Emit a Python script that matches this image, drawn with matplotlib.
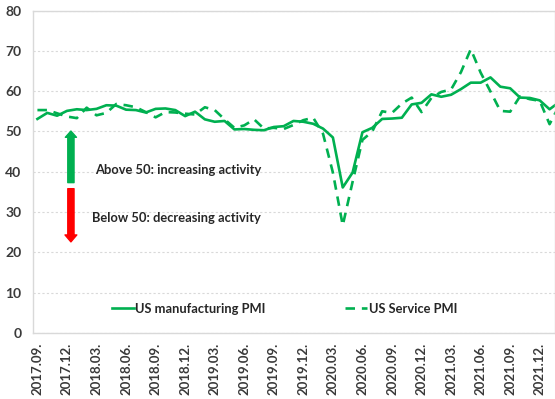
import matplotlib
matplotlib.use("Agg")
import matplotlib.pyplot as plt
import numpy as np

# Monthly categories 2017.09 ... 2022.02 (last point partly beyond the visible area)
manufacturing = [53.1, 54.6, 53.9, 55.1, 55.5, 55.3, 55.6, 56.5, 56.4, 55.4, 55.3, 54.7,
                 55.6, 55.7, 55.3, 53.8, 54.9, 53.0, 52.4, 52.6, 50.5, 50.6, 50.4, 50.3,
                 51.1, 51.3, 52.6, 52.4, 51.9, 50.7, 48.5, 36.1, 39.8, 49.8, 50.9, 53.1,
                 53.2, 53.4, 56.7, 57.1, 59.2, 58.6, 59.1, 60.5, 62.1, 62.1, 63.4, 61.1,
                 60.7, 58.4, 58.3, 57.7, 55.5, 57.3]
services = [55.3, 55.3, 54.5, 53.7, 53.3, 55.9, 54.0, 54.6, 56.8, 56.5, 56.0, 54.8,
            53.5, 54.8, 54.7, 54.4, 54.2, 56.0, 55.3, 53.0, 50.9, 51.5, 53.0, 50.7,
            50.9, 50.6, 51.6, 52.8, 53.4, 49.4, 39.8, 26.7, 37.5, 47.9, 50.0, 55.0,
            54.6, 56.9, 58.4, 54.8, 58.3, 59.8, 60.4, 64.7, 70.4, 64.6, 59.9, 55.1,
            54.9, 58.7, 58.0, 57.6, 51.8, 56.5]
tick_labels = ["2017.09.", "2017.12.", "2018.03.", "2018.06.", "2018.09.", "2018.12.",
               "2019.03.", "2019.06.", "2019.09.", "2019.12.", "2020.03.", "2020.06.",
               "2020.09.", "2020.12.", "2021.03.", "2021.06.", "2021.09.", "2021.12."]
series_names = ["US manufacturing PMI", "US Service PMI"]
note_up = "Above 50: increasing activity"
note_down = "Below 50: decreasing activity"

GREEN = "#00B050"
FONT = "Lato"
TXT = "#3A3A3A"

fig = plt.figure(figsize=(5.55, 3.99), dpi=100)
ax = fig.add_axes([32.5 / 555, 1 - 333 / 399, 522 / 555, (333 - 10.5) / 399])

x = np.arange(len(manufacturing))
ax.plot(x, manufacturing, color=GREEN, lw=1.9, label=series_names[0], solid_joinstyle="round")
ax.plot(x, services, color=GREEN, lw=1.9, dashes=(3.6, 2.6), label=series_names[1])

ax.set_xlim(-0.5, 52.5)
ax.set_ylim(0, 80)
ax.set_yticks(np.arange(0, 81, 10))
ax.set_xticks(np.arange(0, 3 * len(tick_labels), 3))
ax.set_xticklabels(tick_labels, rotation=90)

for lab in ax.get_xticklabels() + ax.get_yticklabels():
    lab.set_fontfamily(FONT)
    lab.set_fontweight("bold")
    lab.set_color(TXT)
    lab.set_fontsize(9.5)
for lab in ax.get_yticklabels():
    lab.set_fontsize(10)
ax.tick_params(axis="both", length=0)
ax.tick_params(axis="y", pad=8)
ax.tick_params(axis="x", pad=7)

ax.grid(axis="y", color="#D9D9D9", lw=0.8, ls=(0, (2, 2)))
ax.set_axisbelow(True)
for s in ax.spines.values():
    s.set_color("#D9D9D9")
    s.set_linewidth(1.0)

# arrows
ax.annotate("", xy=(3.4, 50.1), xytext=(3.4, 37.3),
            arrowprops=dict(arrowstyle="simple,head_width=0.8,head_length=0.45,tail_width=0.45",
                            color=GREEN, shrinkA=0, shrinkB=0, mutation_scale=10))
ax.annotate("", xy=(3.4, 22.6), xytext=(3.4, 35.8),
            arrowprops=dict(arrowstyle="simple,head_width=0.85,head_length=0.5,tail_width=0.45",
                            color="#FF0000", shrinkA=0, shrinkB=0, mutation_scale=10))

ax.text(5.85, 40.5, note_up, fontfamily=FONT, fontweight="bold", fontsize=9.3,
        color="#262626", va="center", ha="left")
ax.text(5.5, 28.6, note_down, fontfamily=FONT, fontweight="bold", fontsize=9.3,
        color="#262626", va="center", ha="left")

leg = ax.legend(loc="center left", bbox_to_anchor=((111.7 - 32.5) / 522, (333 - 309) / 322.5),
                ncol=2, frameon=False, borderpad=0, borderaxespad=0,
                handlelength=1.7, handletextpad=0.1, columnspacing=6.2,
                prop=dict(family=FONT, weight="bold", size=9.3))
for t in leg.get_texts():
    t.set_color("#262626")

fig.savefig("out.png", dpi=100)
